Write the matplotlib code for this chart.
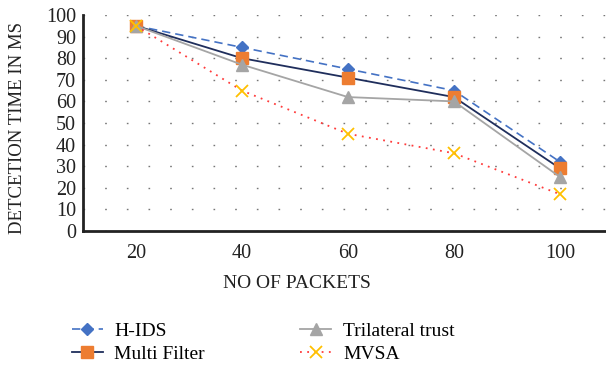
import matplotlib
matplotlib.use("Agg")
import matplotlib.pyplot as plt
import numpy as np

packets = ["20", "40", "60", "80", "100"]
h_ids = [95, 85, 75, 65, 32]
multi_filter = [95, 80, 71, 62, 29]
trilateral = [95, 77, 62, 60, 25]
mvsa = [95, 65, 45, 36, 17]

plt.rcParams["font.family"] = ["Liberation Serif", "DejaVu Serif"]

fig = plt.figure(figsize=(6.06, 3.68), dpi=100)
ax = fig.add_axes([83 / 606, 1 - 231 / 368, 530 / 606, 216 / 368])

x = np.arange(len(packets))
ax.plot(x, h_ids, color="#4472C4", linestyle=(0, (5, 3)), lw=1.2,
        marker="D", markersize=6, markerfacecolor="#4472C4", markeredgecolor="#4472C4",
        label="H-IDS")
ax.plot(x, multi_filter, color="#1F2E5C", lw=1.3,
        marker="s", markersize=8, markerfacecolor="#ED7D31", markeredgecolor="#ED7D31",
        label="Multi Filter")
ax.plot(x, trilateral, color="#A5A5A5", lw=1.3,
        marker="^", markersize=9, markerfacecolor="#A5A5A5", markeredgecolor="#A5A5A5",
        label="Trilateral trust")
ax.plot(x, mvsa, color="#FF3B3B", linestyle=(0, (1, 3)), lw=1.3,
        marker="x", markersize=9, markeredgewidth=1.3, markeredgecolor="#FFC000",
        label="MVSA")

ax.set_xlim(-0.5, len(packets) - 0.5)
ax.set_ylim(0, 100)
ax.set_yticks(np.arange(0, 101, 10))
ax.set_xticks(x)
ax.set_xticklabels(packets)
ax.tick_params(axis="both", length=0, labelsize=14.5, colors="#222222")
ax.tick_params(axis="x", pad=9)
ax.tick_params(axis="y", pad=5)
ax.grid(axis="y", linestyle=(0, (1.2, 14.4)), color="#777777", lw=1.0)
ax.set_axisbelow(True)

for s in ["top", "right"]:
    ax.spines[s].set_visible(False)
ax.spines["left"].set_linewidth(2)
ax.spines["bottom"].set_linewidth(2)
ax.spines["left"].set_color("#222222")
ax.spines["bottom"].set_color("#222222")

fig.text(18 / 606, 1 - 128 / 368, "DETCETION TIME IN MS", rotation=90,
         ha="center", va="center", fontsize=13.5, color="#222222")
fig.text(297 / 606, 1 - 283 / 368, "NO OF PACKETS", ha="center", va="center",
         fontsize=14, color="#222222")

fig.legend(loc="upper left", bbox_to_anchor=(58 / 606, 1 - 309 / 368), ncol=2,
           frameon=False, fontsize=14, columnspacing=4.9, handlelength=1.6,
           labelspacing=0.25, handletextpad=0.6, borderpad=0.2)

fig.savefig("out.png", dpi=100)
